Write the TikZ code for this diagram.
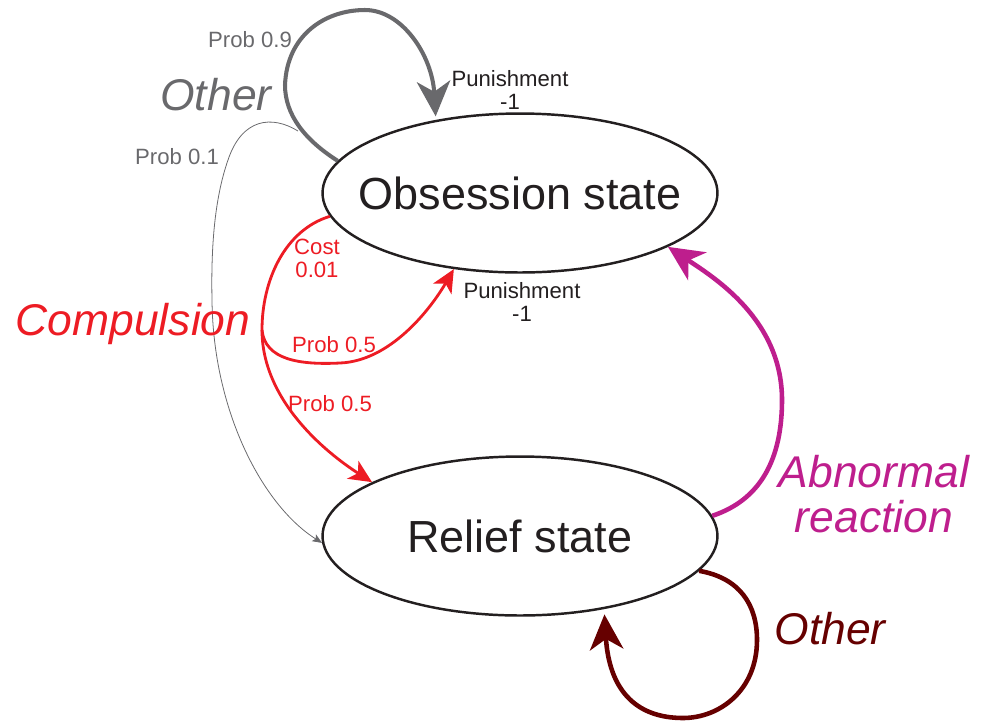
\documentclass[tikz,border=0pt]{standalone}
\usepackage{fontspec}
\setmainfont{Liberation Sans}
\usetikzlibrary{arrows.meta,positioning,calc,shapes.geometric}
\definecolor{stateInk}{RGB}{35,31,32}
\definecolor{actionA}{RGB}{105,105,108}
\definecolor{actionB}{RGB}{237,28,36}
\definecolor{actionC}{RGB}{190,30,141}
\definecolor{actionD}{RGB}{102,0,0}

\begin{document}
\begin{tikzpicture}[
  x=0.02cm, y=-0.02cm,
  state/.style={draw=stateInk, ellipse, line width=1.4pt, minimum width=7.9cm,
                minimum height=3.18cm, inner sep=0pt, text=stateInk,
                font=\fontsize{25.6}{30}\selectfont},
  tag/.style={inner sep=0pt, align=center, font=\fontsize{12.6}{13}\selectfont},
  cue/.style={inner sep=0pt, align=center, font=\fontsize{25.3}{26}\selectfont\itshape},
  bighead/.style={-{Stealth[length=20pt, width=19pt, inset=6pt]}},
  redhead/.style={-{Stealth[length=13pt, width=12pt, inset=3.5pt]}},
  thinhead/.style={-{Stealth[length=5.5pt, width=4.5pt, inset=1.2pt]}}
]
\useasboundingbox (0,0) rectangle (987,721);

\node[state] (obs) at (520,193) {\makebox[0pt]{Obsession state}};
\node[state] (rel) at (520,536) {\makebox[0pt]{Relief state}};

\draw[actionA, line width=2.3pt, bighead, shorten >=2pt]
  (obs.170) .. controls (305,140) and (285,115) .. (285,85)
  .. controls (287,35) and (325,10) .. (365,10)
  .. controls (402,10) and (432,55) .. (obs.139);
\coordinate (fork) at (298,131);
\draw[actionA, line width=0.45pt, thinhead]
  (fork) .. controls (272,115) and (242,118) .. (228,160)
  .. controls (214,200) and (211,250) .. (212,300)
  .. controls (213,410) and (262,505) .. (rel.182);

\coordinate (split) at (262,330);
\draw[actionB, line width=1.6pt]
  (obs.187) .. controls (285,230) and (262,280) .. (split);
\draw[actionB, line width=1.6pt, redhead]
  (split) .. controls (265,360) and (300,365) .. (340,363)
  .. controls (390,361) and (430,310) .. (obs.229);
\draw[actionB, line width=1.6pt, redhead]
  (split) .. controls (262,400) and (325,452) .. (rel.160);

\draw[actionC, line width=2.6pt, bighead]
  (rel.6) .. controls (760,500) and (782,460) .. (782,400)
  .. controls (782,320) and (715,278) .. (obs.340);

\draw[actionD, line width=2.6pt, bighead, shorten >=3pt]
  (rel.349) .. controls (740,578) and (757,605) .. (757,640)
  .. controls (757,690) and (720,718) .. (683,718)
  .. controls (634,718) and (609,688) .. (rel.319);

\node[tag, text=actionA] (p09) at (250,40) {Prob 0.9};
\node[cue, text=actionA] (oth1) at (216,95) {Other};
\node[tag, text=actionA] (p01) at (177,157) {Prob 0.1};
\node[tag, text=stateInk] (pun1) at (510,90) {Punishment\\-1};
\node[tag, text=actionB] (cost) at (317,258) {Cost\\0.01};
\node[cue, text=actionB] (comp) at (133,324) {Compulsion};
\node[tag, text=actionB] (p05a) at (334,345) {Prob 0.5};
\node[tag, text=actionB] (p05b) at (330,404) {Prob 0.5};
\node[tag, text=stateInk] (pun2) at (522,302) {Punishment\\-1};
\node[cue, text=actionC] (abn) at (874,494) {Abnormal\\reaction};
\node[cue, text=actionD] (oth2) at (830,629) {Other};
\end{tikzpicture}
\end{document}
